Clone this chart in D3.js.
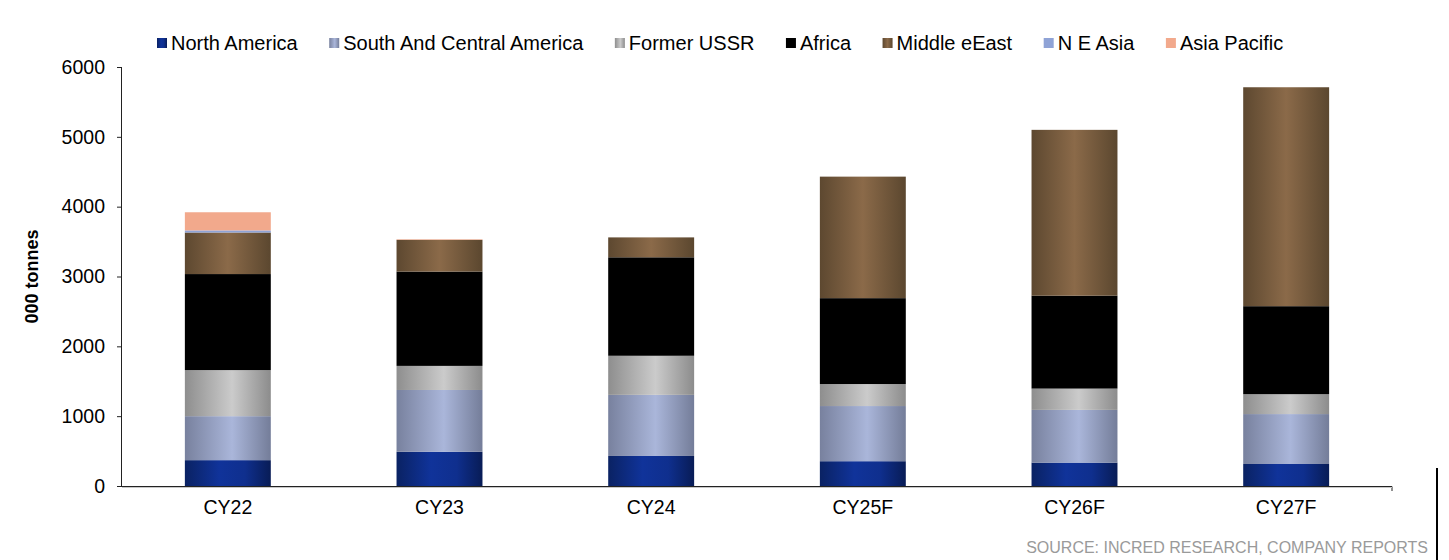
<!DOCTYPE html>
<html>
<head>
<meta charset="utf-8">
<script src="https://cdn.jsdelivr.net/npm/d3@7"></script>
<style>
  html, body { margin: 0; padding: 0; background: #fff; }
  svg { display: block; font-family: Arial, "Liberation Sans", Helvetica, sans-serif; }
</style>
</head>
<body>
<svg id="chart" width="1449" height="560"></svg>
<script>
// Production by region, '000 tonnes
const years = ["CY22", "CY23", "CY24", "CY25F", "CY26F", "CY27F"];
const regions = ["North America", "South And Central America", "Former USSR", "Africa", "Middle eEast", "N E Asia", "Asia Pacific"];
const northAmerica   = [370, 490, 430, 355, 335, 315];
const southCentral   = [630, 885, 875, 790, 755, 715];
const formerUSSR     = [660, 345, 560, 315, 305, 285];
const africa         = [1375, 1350, 1410, 1230, 1330, 1260];
const middleEast     = [595, 455, 285, 1740, 2375, 3135];
const neAsia         = [30, 0, 0, 0, 0, 0];
const asiaPacific    = [260, 8, 0, 0, 0, 0];
const yTicks = [0, 1000, 2000, 3000, 4000, 5000, 6000];

const seriesValues = [northAmerica, southCentral, formerUSSR, africa, middleEast, neAsia, asiaPacific];
const rows = years.map((yr, i) => {
  const r = { year: yr };
  regions.forEach((name, k) => { r[name] = seriesValues[k][i]; });
  return r;
});

// fill styles: shaded gradients for most series
const fills = [
  { id: "gNA",  stops: [["0%", "#0a2263"], ["40%", "#10339a"], ["70%", "#0f2f8e"], ["100%", "#081c56"]] },
  { id: "gSA",  stops: [["0%", "#78819e"], ["55%", "#aab6da"], ["100%", "#747d99"]] },
  { id: "gFU",  stops: [["0%", "#8e8e8e"], ["55%", "#cbcbcb"], ["100%", "#8c8c8c"]] },
  { id: null,   color: "#000000" },
  { id: "gME",  stops: [["0%", "#5d4830"], ["50%", "#8b6a49"], ["100%", "#5b472f"]] },
  { id: null,   color: "#8fa3d6" },
  { id: null,   color: "#f2a98c" }
];

const svg = d3.select("#chart");
const defs = svg.append("defs");
fills.forEach(f => {
  if (!f.id) return;
  const g = defs.append("linearGradient").attr("id", f.id)
    .attr("x1", "0%").attr("x2", "100%").attr("y1", "0%").attr("y2", "0%");
  f.stops.forEach(s => g.append("stop").attr("offset", s[0]).attr("stop-color", s[1]));
});
const fillOf = k => fills[k].id ? `url(#${fills[k].id})` : fills[k].color;

const plotLeft = 122, plotRight = 1392, plotTop = 67, plotBottom = 486;

const x = d3.scaleBand().domain(years).range([plotLeft, plotRight]).paddingInner(0.594).paddingOuter(0.297);
const y = d3.scaleLinear().domain([0, 6000]).range([plotBottom, plotTop]);

const stacked = d3.stack().keys(regions)(rows);

// bars
const layer = svg.append("g");
stacked.forEach((s, k) => {
  layer.append("g").attr("fill", fillOf(k))
    .selectAll("rect").data(s.filter(d => d[1] - d[0] > 0)).join("rect")
    .attr("x", d => x(d.data.year))
    .attr("width", x.bandwidth())
    .attr("y", d => y(d[1]))
    .attr("height", d => y(d[0]) - y(d[1]));
});

// y axis
const yAxis = svg.append("g").attr("transform", `translate(${plotLeft},0)`)
  .call(d3.axisLeft(y).tickValues(yTicks).tickSize(5).tickPadding(12).tickFormat(d3.format("d")));
yAxis.select(".domain").attr("stroke", "#222").attr("d", `M-0.5,${plotTop}V${plotBottom}`);
yAxis.selectAll(".tick line").attr("stroke", "#222");
yAxis.selectAll(".tick text").attr("font-size", 19.5).attr("fill", "#000").attr("font-family", "Arial, 'Liberation Sans', sans-serif");

// x axis
const xAxis = svg.append("g").attr("transform", `translate(0,${plotBottom})`)
  .call(d3.axisBottom(x).tickSize(0).tickPadding(14));
xAxis.select(".domain").remove();
xAxis.selectAll(".tick text").attr("font-size", 19.5).attr("fill", "#000").attr("font-family", "Arial, 'Liberation Sans', sans-serif");
svg.append("path").attr("d", `M${plotLeft - 5},${plotBottom + 0.5}H${plotRight}V${plotBottom + 5}`)
  .attr("fill", "none").attr("stroke", "#222");
svg.append("path").attr("d", `M${plotLeft},${plotBottom + 1.5}H${plotRight}`)
  .attr("fill", "none").attr("stroke", "#c8c8c8");

// y axis title
svg.append("text")
  .attr("transform", `translate(38,${(plotTop + plotBottom) / 2}) rotate(-90)`)
  .attr("text-anchor", "middle")
  .attr("font-size", 18).attr("font-weight", "bold")
  .text("000 tonnes");

// legend
const legend = svg.append("g").attr("transform", "translate(157,43)");
let cx = 0;
regions.forEach((name, k) => {
  const item = legend.append("g").attr("transform", `translate(${cx},0)`);
  item.append("rect").attr("x", 0).attr("y", -5).attr("width", 10).attr("height", 10).attr("fill", fillOf(k));
  const t = item.append("text").attr("x", 14).attr("y", 0).attr("dy", "0.35em")
    .attr("font-size", 20).text(name);
  cx += 14 + t.node().getComputedTextLength() + 31.5;
});

// source note
svg.append("text").attr("x", 1428).attr("y", 553).attr("text-anchor", "end")
  .attr("font-size", 16).attr("fill", "#9a9a9a")
  .text("SOURCE: INCRED RESEARCH, COMPANY REPORTS");

// page edge rule beside the footer
svg.append("rect").attr("x", 1436).attr("y", 468).attr("width", 2).attr("height", 92).attr("fill", "#000");
</script>
</body>
</html>
